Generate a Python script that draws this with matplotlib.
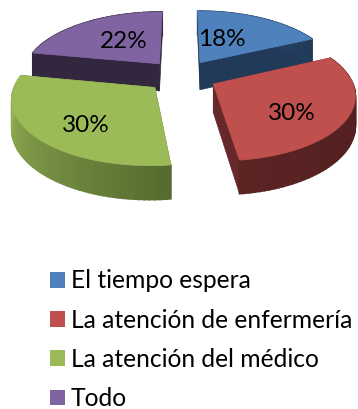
import numpy as np
import matplotlib
matplotlib.use("Agg")
import matplotlib.pyplot as plt
from matplotlib.patches import Patch
from matplotlib.colors import to_rgb

plt.rcParams['font.family'] = ['Lato', 'DejaVu Sans']

# Survey answers and their shares
categories = ["El tiempo espera", "La atención de enfermería", "La atención del médico", "Todo"]
shares = [18, 30, 30, 22]
top_colors = ["#4f81bd", "#c0504d", "#9bbb59", "#8064a2"]
cut_colors = ["#213a59", "#66282a", "#566b30", "#33263f"]
rim_starts = ["#2a4a70", "#4e1e1d", "#566b30", "#33263f"]
rim_ends = ["#213a59", "#5a2423", "#9bbb59", "#33263f"]
label_offsets = [(0.35, 0.55), (0.59, 0.80), (0.60, 0.72), (0.46, 0.58)]

# Projection of the tilted, exploded pie into pixel space
CX, CY = 181.5, 76.0
SCALE_X, SCALE_Y = 137.0, 62.8
PERSPECTIVE = 0.1485
EXPLODE = 0.26
DEPTH = 28.0
STEPS = 60


def project(u, v, drop=0.0):
    s = 1.0 / (1.0 + PERSPECTIVE * v)
    return CX + SCALE_X * u * s, CY - SCALE_Y * v * s + drop * s


def mix(a, b, t):
    a, b = np.array(to_rgb(a)), np.array(to_rgb(b))
    return tuple(a + (b - a) * t)


fig = plt.figure(figsize=(3.58, 4.09), dpi=100)
ax = fig.add_axes([0, 0, 1, 1])
ax.set_xlim(0, 358)
ax.set_ylim(409, 0)
ax.axis("off")

edges = np.radians(np.concatenate([[0], np.cumsum(shares)]) * 3.6)

# Back slices first so the front ones overlap them
for i in [3, 0, 1, 2]:
    a0, a1 = edges[i], edges[i + 1]
    mid = (a0 + a1) / 2
    ox, oy = EXPLODE * np.sin(mid), EXPLODE * np.cos(mid)
    th = np.linspace(a0, a1, STEPS)
    u = ox + np.sin(th)
    v = oy + np.cos(th)

    # Flat cut faces running from the apex to the rim
    for k in (0, -1):
        ax.fill(*zip(project(ox, oy), project(u[k], v[k]),
                     project(u[k], v[k], DEPTH), project(ox, oy, DEPTH)),
                color=cut_colors[i], lw=0.5, zorder=1)

    # Outer rim, shaded step by step along the arc
    for j in range(STEPS - 1):
        quad = [project(u[j], v[j]), project(u[j + 1], v[j + 1]),
                project(u[j + 1], v[j + 1], DEPTH), project(u[j], v[j], DEPTH)]
        ax.fill(*zip(*quad), color=mix(rim_starts[i], rim_ends[i], j / (STEPS - 2)),
                lw=1.2, zorder=1)

    # Top surface
    top = [project(ox, oy)] + [project(a, b) for a, b in zip(u, v)]
    ax.fill(*zip(*top), color=top_colors[i], lw=0.5, zorder=1)

    lx, ly = project(ox + label_offsets[i][0] * np.sin(mid),
                     oy + label_offsets[i][1] * np.cos(mid))
    ax.text(lx, ly + 2.5, f"{shares[i]}%", fontsize=17.5, color="black",
            ha="center", va="center", zorder=2)

handles = [Patch(facecolor=c, edgecolor="none") for c in top_colors]
ax.legend(handles, categories, loc="upper left", bbox_to_anchor=(50 / 358, 1 - 269.5 / 409),
          frameon=False, fontsize=17.7, handlelength=0.6, handleheight=0.6,
          handletextpad=0.25, labelspacing=0.66, borderpad=0, borderaxespad=0)

fig.savefig("out.png", dpi=100)
